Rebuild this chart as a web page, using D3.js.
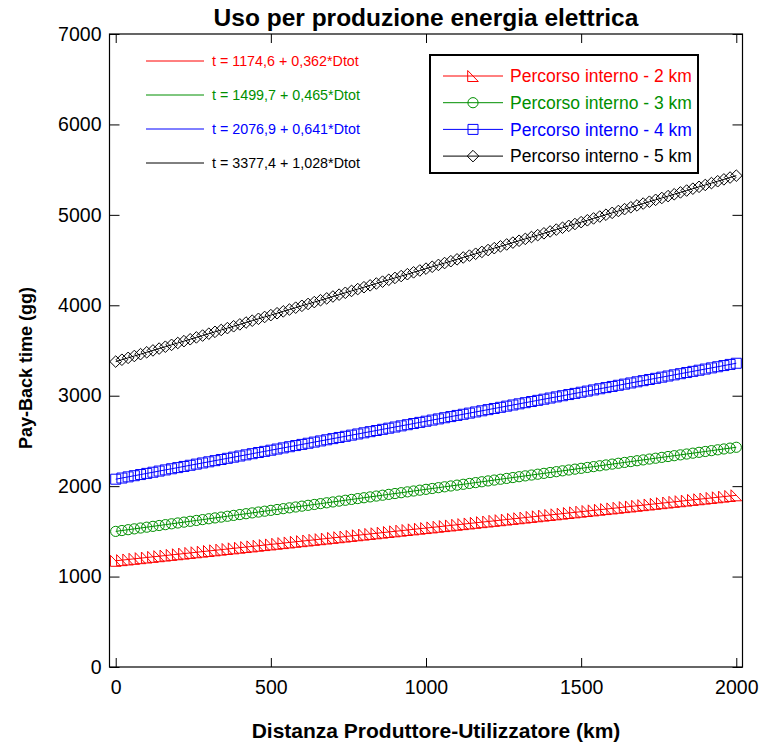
<!DOCTYPE html>
<html>
<head>
<meta charset="utf-8">
<script src="https://cdn.jsdelivr.net/npm/d3@7"></script>
<style>
  html, body { margin: 0; padding: 0; background: #fff; }
  svg { display: block; font-family: "Liberation Sans", Arial, sans-serif; }
</style>
</head>
<body>
<svg id="chart" width="763" height="744"></svg>
<script>
// Distanza produttore-utilizzatore (km)
const distances = [
  0, 20, 40, 60, 80, 100, 120, 140, 160, 180,
  200, 220, 240, 260, 280, 300, 320, 340, 360, 380,
  400, 420, 440, 460, 480, 500, 520, 540, 560, 580,
  600, 620, 640, 660, 680, 700, 720, 740, 760, 780,
  800, 820, 840, 860, 880, 900, 920, 940, 960, 980,
  1000, 1020, 1040, 1060, 1080, 1100, 1120, 1140, 1160, 1180,
  1200, 1220, 1240, 1260, 1280, 1300, 1320, 1340, 1360, 1380,
  1400, 1420, 1440, 1460, 1480, 1500, 1520, 1540, 1560, 1580,
  1600, 1620, 1640, 1660, 1680, 1700, 1720, 1740, 1760, 1780,
  1800, 1820, 1840, 1860, 1880, 1900, 1920, 1940, 1960, 1980,
  2000
];

// Pay-back time (gg), percorso interno 2 km
const payback2km = [
  1174.6, 1181.8, 1189.1, 1196.3, 1203.6, 1210.8, 1218.0, 1225.3, 1232.5, 1239.8,
  1247.0, 1254.2, 1261.5, 1268.7, 1276.0, 1283.2, 1290.4, 1297.7, 1304.9, 1312.2,
  1319.4, 1326.6, 1333.9, 1341.1, 1348.4, 1355.6, 1362.8, 1370.1, 1377.3, 1384.6,
  1391.8, 1399.0, 1406.3, 1413.5, 1420.8, 1428.0, 1435.2, 1442.5, 1449.7, 1457.0,
  1464.2, 1471.4, 1478.7, 1485.9, 1493.2, 1500.4, 1507.6, 1514.9, 1522.1, 1529.4,
  1536.6, 1543.8, 1551.1, 1558.3, 1565.6, 1572.8, 1580.0, 1587.3, 1594.5, 1601.8,
  1609.0, 1616.2, 1623.5, 1630.7, 1638.0, 1645.2, 1652.4, 1659.7, 1666.9, 1674.2,
  1681.4, 1688.6, 1695.9, 1703.1, 1710.4, 1717.6, 1724.8, 1732.1, 1739.3, 1746.6,
  1753.8, 1761.0, 1768.3, 1775.5, 1782.8, 1790.0, 1797.2, 1804.5, 1811.7, 1819.0,
  1826.2, 1833.4, 1840.7, 1847.9, 1855.2, 1862.4, 1869.6, 1876.9, 1884.1, 1891.4,
  1898.6
];

// Pay-back time (gg), percorso interno 3 km
const payback3km = [
  1499.7, 1509.0, 1518.3, 1527.6, 1536.9, 1546.2, 1555.5, 1564.8, 1574.1, 1583.4,
  1592.7, 1602.0, 1611.3, 1620.6, 1629.9, 1639.2, 1648.5, 1657.8, 1667.1, 1676.4,
  1685.7, 1695.0, 1704.3, 1713.6, 1722.9, 1732.2, 1741.5, 1750.8, 1760.1, 1769.4,
  1778.7, 1788.0, 1797.3, 1806.6, 1815.9, 1825.2, 1834.5, 1843.8, 1853.1, 1862.4,
  1871.7, 1881.0, 1890.3, 1899.6, 1908.9, 1918.2, 1927.5, 1936.8, 1946.1, 1955.4,
  1964.7, 1974.0, 1983.3, 1992.6, 2001.9, 2011.2, 2020.5, 2029.8, 2039.1, 2048.4,
  2057.7, 2067.0, 2076.3, 2085.6, 2094.9, 2104.2, 2113.5, 2122.8, 2132.1, 2141.4,
  2150.7, 2160.0, 2169.3, 2178.6, 2187.9, 2197.2, 2206.5, 2215.8, 2225.1, 2234.4,
  2243.7, 2253.0, 2262.3, 2271.6, 2280.9, 2290.2, 2299.5, 2308.8, 2318.1, 2327.4,
  2336.7, 2346.0, 2355.3, 2364.6, 2373.9, 2383.2, 2392.5, 2401.8, 2411.1, 2420.4,
  2429.7
];

// Pay-back time (gg), percorso interno 4 km
const payback4km = [
  2076.9, 2089.7, 2102.5, 2115.4, 2128.2, 2141.0, 2153.8, 2166.6, 2179.5, 2192.3,
  2205.1, 2217.9, 2230.7, 2243.6, 2256.4, 2269.2, 2282.0, 2294.8, 2307.7, 2320.5,
  2333.3, 2346.1, 2358.9, 2371.8, 2384.6, 2397.4, 2410.2, 2423.0, 2435.9, 2448.7,
  2461.5, 2474.3, 2487.1, 2500.0, 2512.8, 2525.6, 2538.4, 2551.2, 2564.1, 2576.9,
  2589.7, 2602.5, 2615.3, 2628.2, 2641.0, 2653.8, 2666.6, 2679.4, 2692.3, 2705.1,
  2717.9, 2730.7, 2743.5, 2756.4, 2769.2, 2782.0, 2794.8, 2807.6, 2820.5, 2833.3,
  2846.1, 2858.9, 2871.7, 2884.6, 2897.4, 2910.2, 2923.0, 2935.8, 2948.7, 2961.5,
  2974.3, 2987.1, 2999.9, 3012.8, 3025.6, 3038.4, 3051.2, 3064.0, 3076.9, 3089.7,
  3102.5, 3115.3, 3128.1, 3141.0, 3153.8, 3166.6, 3179.4, 3192.2, 3205.1, 3217.9,
  3230.7, 3243.5, 3256.3, 3269.2, 3282.0, 3294.8, 3307.6, 3320.4, 3333.3, 3346.1,
  3358.9
];

// Pay-back time (gg), percorso interno 5 km
const payback5km = [
  3377.4, 3398.0, 3418.5, 3439.1, 3459.6, 3480.2, 3500.8, 3521.3, 3541.9, 3562.4,
  3583.0, 3603.6, 3624.1, 3644.7, 3665.2, 3685.8, 3706.4, 3726.9, 3747.5, 3768.0,
  3788.6, 3809.2, 3829.7, 3850.3, 3870.8, 3891.4, 3912.0, 3932.5, 3953.1, 3973.6,
  3994.2, 4014.8, 4035.3, 4055.9, 4076.4, 4097.0, 4117.6, 4138.1, 4158.7, 4179.2,
  4199.8, 4220.4, 4240.9, 4261.5, 4282.0, 4302.6, 4323.2, 4343.7, 4364.3, 4384.8,
  4405.4, 4426.0, 4446.5, 4467.1, 4487.6, 4508.2, 4528.8, 4549.3, 4569.9, 4590.4,
  4611.0, 4631.6, 4652.1, 4672.7, 4693.2, 4713.8, 4734.4, 4754.9, 4775.5, 4796.0,
  4816.6, 4837.2, 4857.7, 4878.3, 4898.8, 4919.4, 4940.0, 4960.5, 4981.1, 5001.6,
  5022.2, 5042.8, 5063.3, 5083.9, 5104.4, 5125.0, 5145.6, 5166.1, 5186.7, 5207.2,
  5227.8, 5248.4, 5268.9, 5289.5, 5310.0, 5330.6, 5351.2, 5371.7, 5392.3, 5412.8,
  5433.4
];

const seriesNames = [
  "Percorso interno - 2 km",
  "Percorso interno - 3 km",
  "Percorso interno - 4 km",
  "Percorso interno - 5 km"
];
const seriesValues = [payback2km, payback3km, payback4km, payback5km];
const seriesColors = ["#ff0000", "#008f00", "#0000ff", "#000000"];
const seriesMarkers = ["triangle", "circle", "square", "diamond"];

// Regression equations shown in the upper-left corner
const equationLabels = [
  "t = 1174,6 + 0,362*Dtot",
  "t = 1499,7 + 0,465*Dtot",
  "t = 2076,9 + 0,641*Dtot",
  "t = 3377,4 + 1,028*Dtot"
];

const xTicks = [0, 500, 1000, 1500, 2000];
const yTicks = [0, 1000, 2000, 3000, 4000, 5000, 6000, 7000];

const titleText = "Uso per produzione energia elettrica";
const xTitle = "Distanza Produttore-Utilizzatore (km)";
const yTitle = "Pay-Back time (gg)";

// ---- layout ----
const plot = { left: 109.5, right: 742.5, top: 34, bottom: 667 };
const svg = d3.select("#chart");

const x = d3.scaleLinear().domain([-20, 2020]).range([plot.left, plot.right]);
const y = d3.scaleLinear().domain([0, 7000]).range([plot.bottom, plot.top]);

// Open marker shapes, centred on the data point
function markerPath(kind) {
  switch (kind) {
    case "triangle": return "M-5.3,-5.5 L-5.3,5.5 L5.3,5.5 Z";
    case "square": return "M-5,-5 H5 V5 H-5 Z";
    case "diamond": return "M0,-5.8 L5.8,0 L0,5.8 L-5.8,0 Z";
    default: return null;
  }
}
function drawMarker(sel, kind, color) {
  if (kind === "circle") {
    sel.append("circle").attr("r", 5.1).attr("fill", "none").attr("stroke", color).attr("stroke-width", 1);
  } else {
    sel.append("path").attr("d", markerPath(kind)).attr("fill", "none").attr("stroke", color).attr("stroke-width", 1);
  }
}

// ---- data ----
const clipId = "plot-clip";
svg.append("clipPath").attr("id", clipId)
  .append("rect")
  .attr("x", plot.left).attr("y", plot.top)
  .attr("width", plot.right - plot.left).attr("height", plot.bottom - plot.top);

const dataLayer = svg.append("g").attr("clip-path", `url(#${clipId})`);
const line = d3.line().x((d, i) => x(distances[i])).y(d => y(d));

seriesValues.forEach((vals, s) => {
  const g = dataLayer.append("g");
  g.append("path")
    .attr("d", line(vals))
    .attr("fill", "none")
    .attr("stroke", seriesColors[s])
    .attr("stroke-width", 1);
  const pts = g.selectAll("g.pt").data(vals).join("g")
    .attr("class", "pt")
    .attr("transform", (d, i) => `translate(${x(distances[i])},${y(d)})`);
  pts.each(function () { drawMarker(d3.select(this), seriesMarkers[s], seriesColors[s]); });
});

// ---- axes (ticks inside, mirrored on all four sides) ----
const tickFont = 19.5;
const fmt = d3.format("d");
const xAxisB = svg.append("g").attr("transform", `translate(0,${plot.bottom})`)
  .call(d3.axisBottom(x).tickValues(xTicks).tickFormat(fmt).tickSizeInner(-9).tickSizeOuter(0).tickPadding(13));
const xAxisT = svg.append("g").attr("transform", `translate(0,${plot.top})`)
  .call(d3.axisTop(x).tickValues(xTicks).tickSizeInner(-9).tickSizeOuter(0).tickFormat(""));
const yAxisL = svg.append("g").attr("transform", `translate(${plot.left},0)`)
  .call(d3.axisLeft(y).tickValues(yTicks).tickFormat(fmt).tickSizeInner(-10).tickSizeOuter(0).tickPadding(8));
const yAxisR = svg.append("g").attr("transform", `translate(${plot.right},0)`)
  .call(d3.axisRight(y).tickValues(yTicks).tickSizeInner(-10).tickSizeOuter(0).tickFormat(""));

[xAxisB, xAxisT, yAxisL, yAxisR].forEach(a => {
  a.select(".domain").remove();
  a.selectAll("line").attr("stroke", "#000").attr("stroke-width", 1);
  a.selectAll("text").attr("font-size", tickFont).attr("fill", "#000")
    .attr("font-family", "'Liberation Sans', Arial, sans-serif");
});

// frame
svg.append("rect")
  .attr("x", plot.left).attr("y", plot.top)
  .attr("width", plot.right - plot.left).attr("height", plot.bottom - plot.top)
  .attr("fill", "none").attr("stroke", "#000").attr("stroke-width", 1.2);

// ---- equations (upper-left) ----
const eq = svg.append("g");
equationLabels.forEach((t, i) => {
  const yy = 61 + i * 34;
  eq.append("line").attr("x1", 146).attr("x2", 204).attr("y1", yy).attr("y2", yy)
    .attr("stroke", seriesColors[i]).attr("stroke-width", 1);
  eq.append("text").attr("x", 212).attr("y", yy).attr("dy", "0.35em")
    .attr("font-size", 14.3).attr("fill", seriesColors[i]).text(t);
});

// ---- legend ----
const leg = svg.append("g");
leg.append("rect").attr("x", 430).attr("y", 55).attr("width", 268).attr("height", 118)
  .attr("fill", "#fff").attr("stroke", "#000").attr("stroke-width", 2);
seriesNames.forEach((name, i) => {
  const yy = 76 + i * 26.7;
  const row = leg.append("g");
  row.append("line").attr("x1", 443).attr("x2", 503).attr("y1", yy).attr("y2", yy)
    .attr("stroke", seriesColors[i]).attr("stroke-width", 1);
  const m = row.append("g").attr("transform", `translate(473,${yy})`);
  drawMarker(m, seriesMarkers[i], seriesColors[i]);
  row.append("text").attr("x", 510).attr("y", yy).attr("dy", "0.35em")
    .attr("font-size", 17.5).attr("fill", seriesColors[i]).text(name);
});

// ---- titles ----
svg.append("text").attr("x", 426).attr("y", 26).attr("text-anchor", "middle")
  .attr("font-size", 24.5).attr("font-weight", "bold").text(titleText);
svg.append("text").attr("x", 436).attr("y", 738).attr("text-anchor", "middle")
  .attr("font-size", 21).attr("font-weight", "bold").text(xTitle);
svg.append("text").attr("transform", "translate(32,368) rotate(-90)").attr("text-anchor", "middle")
  .attr("font-size", 18).attr("font-weight", "bold").text(yTitle);
</script>
</body>
</html>
